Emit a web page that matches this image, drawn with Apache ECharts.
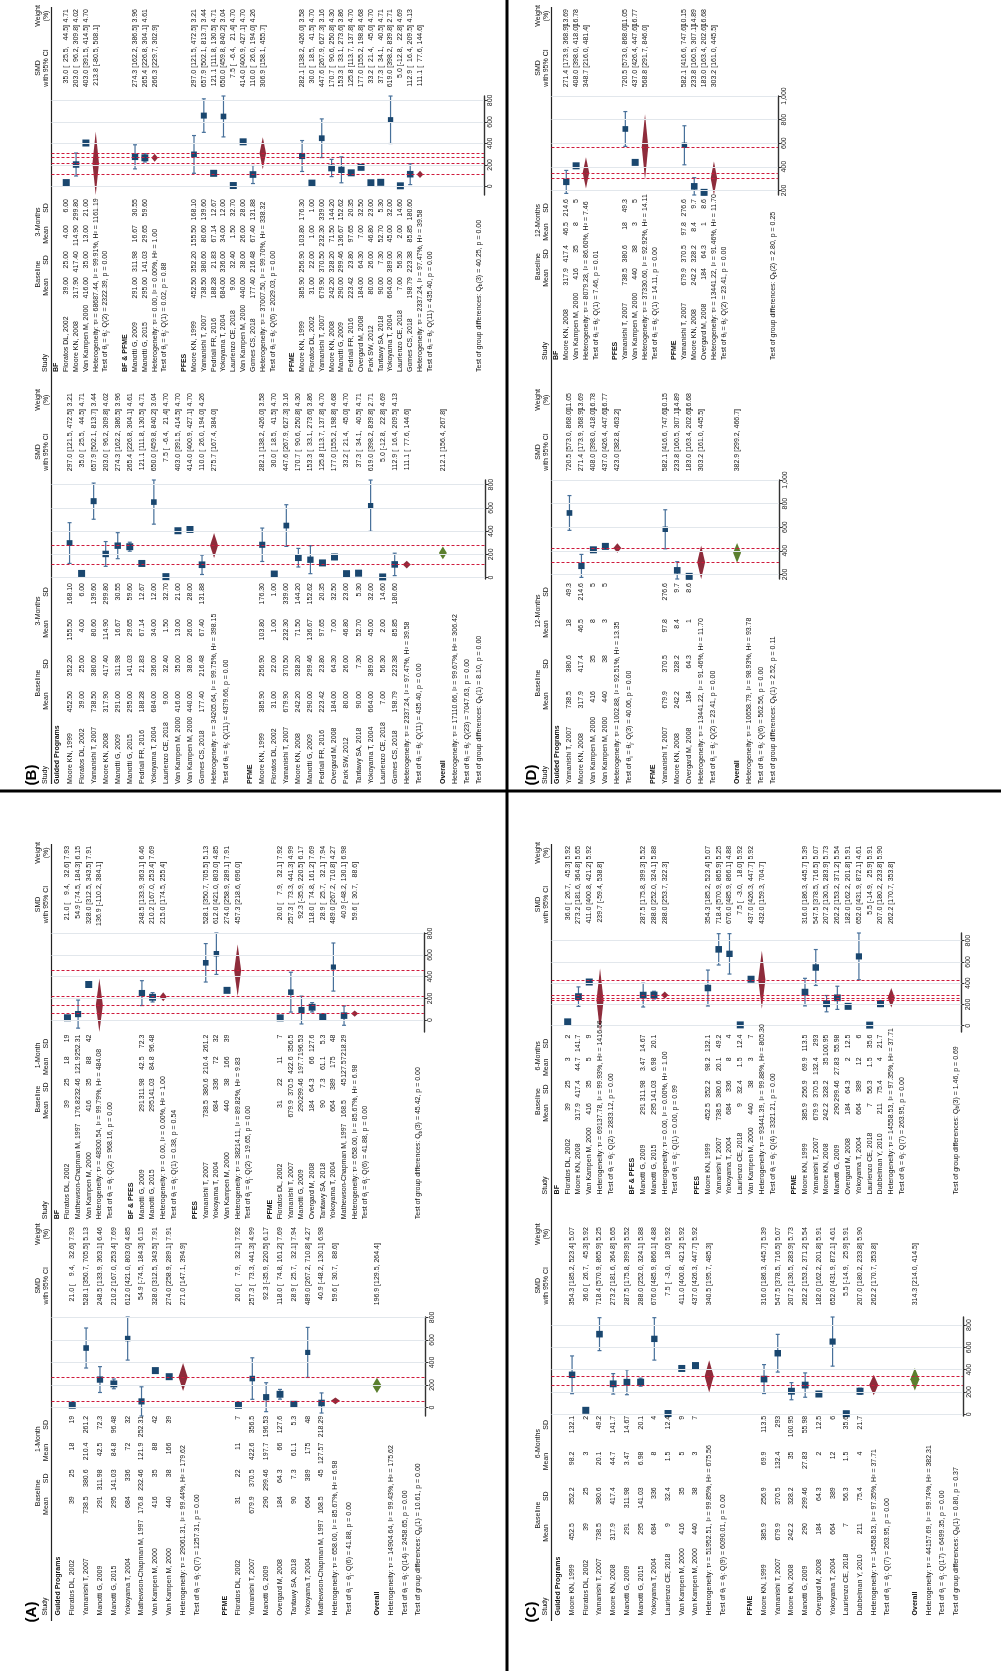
<!DOCTYPE html>
<html>
<head>
<meta charset="utf-8">
<script src="https://cdn.jsdelivr.net/npm/echarts@6/dist/echarts.min.js"></script>
<style>
html,body{margin:0;padding:0;background:#fff;}
#chart{width:1001px;height:1671px;}
</style>
</head>
<body>
<div id="chart"></div>
<script>
// ===================== Panel A : 1-Month =====================
const A_study = ['Floratos DL, 2002','Yamanishi T, 2007','Manotti G, 2009','Manotti G, 2015','Yokoyama T, 2004','Mathewson-Chapman M, 1997','Van Kampen M, 2000','Van Kampen M, 2000',
  'Floratos DL, 2002','Yamanishi T, 2007','Manotti G, 2009','Overgard M, 2008','Tantawy SA, 2018','Yokoyama T, 2004','Mathewson-Chapman M, 1997'];
const A_program = ['Guided Programs','Guided Programs','Guided Programs','Guided Programs','Guided Programs','Guided Programs','Guided Programs','Guided Programs',
  'PFME','PFME','PFME','PFME','PFME','PFME','PFME'];
const A_type = ['BF','PFES','BF & PFES','BF & PFES','PFES','BF','BF','PFES','PFME','PFME','PFME','PFME','PFME','PFME','PFME'];
const A_baseMean = [39,738.5,291,295,684,176.8,416,440,31,679.9,290,184,90,664,168.5];
const A_baseSD = [25,380.6,311.98,141.03,336,232.46,35,38,22,370.5,299.46,64.3,7.3,389,45];
const A_fuMean = [18,210.4,42.5,84.8,72,121.9,88,166,11,422.6,197.7,66,61.1,175,127.57];
const A_fuSD = [19,261.2,72.3,96.48,32,252.31,42,39,7,356.5,196.53,127.6,5.3,48,218.29];
const A_smd = [21.0,528.1,248.5,210.2,612.0,54.9,328.0,274.0,20.0,257.3,92.3,118.0,28.9,489.0,40.9];
const A_lo = [9.4,350.7,133.9,167.0,421.0,-74.5,312.5,258.9,7.9,73.3,-35.9,74.8,25.7,267.2,-48.2];
const A_hi = [32.6,705.5,363.1,253.4,803.0,184.3,343.5,289.1,32.1,441.3,220.5,161.2,32.1,710.8,130.1];
const A_weight = [7.93,5.13,6.46,7.69,4.85,6.15,7.91,7.91,7.92,4.99,6.17,7.69,7.94,4.27,6.98];

const A1_group = ['Guided Programs','PFME'];
const A1_est = [271.0,59.6], A1_lo = [147.1,30.7], A1_hi = [394.9,88.6];
const A1_tau2 = [29061.31,658.00], A1_I2 = [99.44,85.67], A1_H2 = [179.62,6.98];
const A1_df = [7,6], A1_Q = [1257.31,41.88], A1_p = [0.00,0.00];
const A_overall = [196.9,129.5,264.4];
const A_overallHet = [14904.64,99.43,175.62];
const A_overallTest = [14,2458.65,0.00];
const A1_diff = [1,10.61,0.00];

const A2_group = ['BF','BF & PFES','PFES','PFME'];
const A2_est = [136.9,215.0,457.3,59.6], A2_lo = [-110.2,174.5,218.6,30.7], A2_hi = [384.1,255.4,696.0,88.6];
const A2_tau2 = [48300.54,0.00,38214.11,658.00], A2_I2 = [99.79,0.00,89.82,85.67], A2_H2 = [484.08,1.00,9.83,6.98];
const A2_df = [2,1,2,6], A2_Q = [968.16,0.38,19.65,41.88], A2_p = [0.00,0.54,0.00,0.00];
const A2_diff = [3,45.42,0.00];

// ===================== Panel B : 3-Months =====================
const B_study = ['Moore KN, 1999','Floratos DL, 2002','Yamanishi T, 2007','Moore KN, 2008','Manotti G, 2009','Manotti G, 2015','Pedriali FR, 2016','Yokoyama T, 2004','Laurienzo CE, 2018','Van Kampen M, 2000','Van Kampen M, 2000','Gomes CS, 2018',
  'Moore KN, 1999','Floratos DL, 2002','Yamanishi T, 2007','Moore KN, 2008','Manotti G, 2009','Pedriali FR, 2016','Overgard M, 2008','Park SW, 2012','Tantawy SA, 2018','Yokoyama T, 2004','Laurienzo CE, 2018','Gomes CS, 2018'];
const B_program = ['Guided Programs','Guided Programs','Guided Programs','Guided Programs','Guided Programs','Guided Programs','Guided Programs','Guided Programs','Guided Programs','Guided Programs','Guided Programs','Guided Programs',
  'PFME','PFME','PFME','PFME','PFME','PFME','PFME','PFME','PFME','PFME','PFME','PFME'];
const B_type = ['PFES','BF','PFES','BF','BF & PFME','BF & PFME','PFES','PFES','PFES','BF','PFES','PFES',
  'PFME','PFME','PFME','PFME','PFME','PFME','PFME','PFME','PFME','PFME','PFME','PFME'];
const B_baseMean = [452.50,39.00,738.50,317.90,291.00,295.00,188.28,684.00,9.00,416.00,440.00,177.40,385.90,31.00,679.90,242.20,290.00,223.42,184.00,80.00,90.00,664.00,7.00,198.79];
const B_baseSD = [352.20,25.00,380.60,417.40,311.98,141.03,21.83,336.00,32.40,35.00,38.00,216.48,256.90,22.00,370.50,328.20,299.46,23.80,64.30,26.00,7.30,389.00,56.30,223.38];
const B_fuMean = [155.50,4.00,80.60,114.90,16.67,29.65,67.14,34.00,1.50,13.00,26.00,67.40,103.80,1.00,232.30,71.50,136.67,97.65,7.00,46.80,52.70,45.00,2.00,85.85];
const B_fuSD = [168.10,6.00,139.60,299.80,30.55,59.60,12.67,12.00,32.70,21.00,28.00,131.88,176.30,1.00,339.00,144.20,152.62,20.35,32.50,23.00,5.30,32.00,14.60,180.60];
const B_smd = [297.0,35.0,657.9,203.0,274.3,265.4,121.1,650.0,7.5,403.0,414.0,110.0,282.1,30.0,447.6,170.7,153.3,125.8,177.0,33.2,37.3,619.0,5.0,112.9];
const B_lo = [121.5,25.5,502.1,96.2,162.2,226.8,111.8,459.8,-6.4,391.5,400.9,26.0,138.2,18.5,267.9,90.6,33.1,113.7,155.2,21.4,34.1,398.2,-12.8,16.4];
const B_hi = [472.5,44.5,813.7,309.8,386.5,304.1,130.5,840.2,21.4,414.5,427.1,194.0,426.0,41.5,627.3,250.8,273.6,137.8,198.8,45.0,40.5,839.8,22.8,209.5];
const B_weight = [3.21,4.71,3.44,4.02,3.96,4.61,4.71,3.04,4.70,4.70,4.70,4.26,3.58,4.70,3.16,4.30,3.86,4.70,4.68,4.70,4.71,2.71,4.69,4.13];

const B1_group = ['Guided Programs','PFME'];
const B1_est = [275.7,111.1], B1_lo = [167.4,77.6], B1_hi = [384.0,144.6];
const B1_tau2 = [34205.64,2337.24], B1_I2 = [99.75,97.47], B1_H2 = [398.15,39.58];
const B1_df = [11,11], B1_Q = [4379.66,435.40], B1_p = [0.00,0.00];
const B_overall = [212.1,156.4,267.8];
const B_overallHet = [17110.66,99.67,306.42];
const B_overallTest = [23,7047.63,0.00];
const B1_diff = [1,8.10,0.00];

const B2_group = ['BF','BF & PFME','PFES','PFME'];
const B2_est = [213.8,266.3,306.9,111.1], B2_lo = [-80.5,229.7,158.1,77.6], B2_hi = [508.1,302.9,455.7,144.6];
const B2_tau2 = [68687.44,0.00,37007.50,2337.24], B2_I2 = [99.91,0.00,99.70,97.47], B2_H2 = [1161.19,1.00,338.32,39.58];
const B2_df = [2,1,6,11], B2_Q = [2322.39,0.02,2029.03,435.40], B2_p = [0.00,0.88,0.00,0.00];
const B2_diff = [3,40.25,0.00];

// ===================== Panel C : 6-Months =====================
const C_study = ['Moore KN, 1999','Floratos DL, 2002','Yamanishi T, 2007','Moore KN, 2008','Manotti G, 2009','Manotti G, 2015','Yokoyama T, 2004','Laurienzo CE, 2018','Van Kampen M, 2000','Van Kampen M, 2000',
  'Moore KN, 1999','Yamanishi T, 2007','Moore KN, 2008','Manotti G, 2009','Overgard M, 2008','Yokoyama T, 2004','Laurienzo CE, 2018','Dubbelman Y, 2010'];
const C_program = ['Guided Programs','Guided Programs','Guided Programs','Guided Programs','Guided Programs','Guided Programs','Guided Programs','Guided Programs','Guided Programs','Guided Programs',
  'PFME','PFME','PFME','PFME','PFME','PFME','PFME','PFME'];
const C_type = ['PFES','BF','PFES','BF','BF & PFES','BF & PFES','PFES','PFES','BF','PFES','PFME','PFME','PFME','PFME','PFME','PFME','PFME','PFME'];
const C_baseMean = [452.5,39,738.5,317.9,291,295,684,9,416,440,385.9,679.9,242.2,290,184,664,7,211];
const C_baseSD = [352.2,25,380.6,417.4,311.98,141.03,336,32.4,35,38,256.9,370.5,328.2,299.46,64.3,389,56.3,75.4];
const C_fuMean = [98.2,3,20.1,44.7,3.47,6.98,8,1.5,5,3,69.9,132.4,35,27.83,2,12,1.5,4];
const C_fuSD = [132.1,2,49.2,141.7,14.67,20.1,4,12.4,9,7,113.5,293,100.95,55.98,12.5,6,35.6,21.7];
const C_smd = [354.3,36.0,718.4,273.2,287.5,288.0,676.0,7.5,411.0,437.0,316.0,547.5,207.2,262.2,182.0,652.0,5.5,207.0];
const C_lo = [185.2,26.7,570.9,181.6,175.8,252.0,485.9,-3.0,400.8,426.3,186.3,378.5,130.5,153.2,162.2,431.9,-14.9,180.2];
const C_hi = [523.4,45.3,865.9,364.8,399.3,324.1,866.1,18.0,421.2,447.7,445.7,716.5,283.9,371.2,201.8,872.1,25.9,233.8];
const C_weight = [5.07,5.92,5.25,5.65,5.52,5.88,4.88,5.92,5.92,5.92,5.39,5.07,5.73,5.54,5.91,4.61,5.91,5.90];

const C1_group = ['Guided Programs','PFME'];
const C1_est = [340.5,262.2], C1_lo = [195.7,170.7], C1_hi = [485.3,353.8];
const C1_tau2 = [51952.51,14558.53], C1_I2 = [99.85,97.35], C1_H2 = [675.56,37.71];
const C1_df = [9,7], C1_Q = [6090.01,263.95], C1_p = [0.00,0.00];
const C_overall = [314.3,214.0,414.5];
const C_overallHet = [44157.69,99.74,382.31];
const C_overallTest = [17,6499.35,0.00];
const C1_diff = [1,0.80,0.37];

const C2_group = ['BF','BF & PFES','PFES','PFME'];
const C2_est = [239.7,288.0,432.0,262.2], C2_lo = [-59.4,253.7,159.3,170.7], C2_hi = [538.8,322.3,704.7,353.8];
const C2_tau2 = [69137.78,0.00,93441.39,14558.53], C2_I2 = [99.93,0.00,99.88,97.35], C2_H2 = [1416.56,1.00,805.30,37.71];
const C2_df = [2,1,4,7], C2_Q = [2833.12,0.00,3321.21,263.95], C2_p = [0.00,0.99,0.00,0.00];
const C2_diff = [3,1.46,0.69];

// ===================== Panel D : 12-Months =====================
const D_study = ['Yamanishi T, 2007','Moore KN, 2008','Van Kampen M, 2000','Van Kampen M, 2000','Yamanishi T, 2007','Moore KN, 2008','Overgard M, 2008'];
const D_program = ['Guided Programs','Guided Programs','Guided Programs','Guided Programs','PFME','PFME','PFME'];
const D_type = ['PFES','BF','BF','PFES','PFME','PFME','PFME'];
const D_baseMean = [738.5,317.9,416,440,679.9,242.2,184];
const D_baseSD = [380.6,417.4,35,38,370.5,328.2,64.3];
const D_fuMean = [18,46.5,8,3,97.8,8.4,1];
const D_fuSD = [49.3,214.6,5,5,276.6,9.7,8.6];
const D_smd = [720.5,271.4,408.0,437.0,582.1,233.8,183.0];
const D_lo = [573.0,173.9,398.0,426.4,416.6,160.5,163.4];
const D_hi = [868.0,368.9,418.0,447.6,747.6,307.1,202.6];
const D_weight = [11.05,13.69,16.78,16.77,10.15,14.89,16.68];

const D1_group = ['Guided Programs','PFME'];
const D1_est = [423.0,303.2], D1_lo = [382.8,161.0], D1_hi = [463.2,445.5];
const D1_tau2 = [1002.88,13441.22], D1_I2 = [92.51,91.46], D1_H2 = [13.35,11.70];
const D1_df = [3,2], D1_Q = [40.06,23.41], D1_p = [0.00,0.00];
const D_overall = [382.9,299.2,466.7];
const D_overallHet = [10658.79,98.93,93.78];
const D_overallTest = [6,562.56,0.00];
const D1_diff = [1,2.52,0.11];

const D2_group = ['BF','PFES','PFME'];
const D2_est = [348.7,568.8,303.2], D2_lo = [216.0,291.7,161.0], D2_hi = [481.4,846.0,445.5];
const D2_tau2 = [8079.28,37330.60,13441.22], D2_I2 = [86.60,92.92,91.46], D2_H2 = [7.46,14.11,11.70];
const D2_df = [1,1,2], D2_Q = [7.46,14.11,23.41], D2_p = [0.01,0.00,0.00];
const D2_diff = [2,2.80,0.25];

// Axis tick labels
const TICKS_0_800 = [0,200,400,600,800];
const TICKS_200_1000 = [200,400,600,800,1000];

// ===================== layout & styling =====================
const FONT = '"Liberation Sans", Arial, Helvetica, sans-serif';
const FS = 7;
const SEP = 51.5;             // header rule (x within a panel)
const LOWER_SHIFT = 384;      // weight / CI / plot columns of the lower block sit this much further down
// column anchors measured from the panel top (right edge of right-aligned numbers, start of study labels)
const COLS_STD = {
  up:  { fuSD: 199, fuMean: 222, baseSD: 245, baseMean: 268, study: 360 },
  low: { fuSD: 583, fuMean: 619, baseSD: 655, baseMean: 691, study: 784 }
};
const COLS_TWO_DEC = {       // two-decimal numbers need wider data columns
  up:  { fuSD: 199, fuMean: 225, baseSD: 251, baseMean: 277, study: 372 },
  low: { fuSD: 583, fuMean: 619, baseSD: 655, baseMean: 691, study: 784 }
};
const COLS_WIDE_ID = {       // longer study labels need a wider first column
  up:  { fuSD: 199, fuMean: 221, baseSD: 243, baseMean: 265, study: 385 },
  low: { fuSD: 583, fuMean: 610, baseSD: 637, baseMean: 664, study: 784 }
};
const YC = { weight: 9, smd: 25, plotTop: 96, plotBottom: 195 };
const HDR1 = 38, HDR2 = 46.5, HDR_STUDY = 45; // header line positions
const SQ_COLOR = '#1a476f', CI_COLOR = '#47709a', MAROON = '#8e2c3b', GREEN = '#5b7f2e', RED = '#cf1a3c', GRID = '#e2e7ec';

function grp(name, est, lo, hi, tau2, I2, H2, df, Q, p) { return { name, est, lo, hi, tau2, I2, H2, df, Q, p }; }

const TOP_Y = 0, BOTTOM_Y = 837;
const PANELS = [
  { label:'(A)', fu:'1-Month', ox:0, oy:BOTTOM_Y, xLast:418.5, dec:null, ticks:TICKS_0_800, cols:COLS_WIDE_ID,
    study:A_study, program:A_program, type:A_type, baseMean:A_baseMean, baseSD:A_baseSD, fuMean:A_fuMean, fuSD:A_fuSD,
    smd:A_smd, lo:A_lo, hi:A_hi, weight:A_weight,
    g1:grp(A1_group,A1_est,A1_lo,A1_hi,A1_tau2,A1_I2,A1_H2,A1_df,A1_Q,A1_p),
    g2:grp(A2_group,A2_est,A2_lo,A2_hi,A2_tau2,A2_I2,A2_H2,A2_df,A2_Q,A2_p),
    overall:A_overall, overallHet:A_overallHet, overallTest:A_overallTest, diff1:A1_diff, diff2:A2_diff },
  { label:'(B)', fu:'3-Months', ox:0, oy:TOP_Y, xLast:479, dec:2, ticks:TICKS_0_800, cols:COLS_TWO_DEC,
    study:B_study, program:B_program, type:B_type, baseMean:B_baseMean, baseSD:B_baseSD, fuMean:B_fuMean, fuSD:B_fuSD,
    smd:B_smd, lo:B_lo, hi:B_hi, weight:B_weight,
    g1:grp(B1_group,B1_est,B1_lo,B1_hi,B1_tau2,B1_I2,B1_H2,B1_df,B1_Q,B1_p),
    g2:grp(B2_group,B2_est,B2_lo,B2_hi,B2_tau2,B2_I2,B2_H2,B2_df,B2_Q,B2_p),
    overall:B_overall, overallHet:B_overallHet, overallTest:B_overallTest, diff1:B1_diff, diff2:B2_diff },
  { label:'(C)', fu:'6-Months', ox:500, oy:BOTTOM_Y, xLast:456, dec:null, ticks:TICKS_0_800, cols:COLS_STD,
    study:C_study, program:C_program, type:C_type, baseMean:C_baseMean, baseSD:C_baseSD, fuMean:C_fuMean, fuSD:C_fuSD,
    smd:C_smd, lo:C_lo, hi:C_hi, weight:C_weight,
    g1:grp(C1_group,C1_est,C1_lo,C1_hi,C1_tau2,C1_I2,C1_H2,C1_df,C1_Q,C1_p),
    g2:grp(C2_group,C2_est,C2_lo,C2_hi,C2_tau2,C2_I2,C2_H2,C2_df,C2_Q,C2_p),
    overall:C_overall, overallHet:C_overallHet, overallTest:C_overallTest, diff1:C1_diff, diff2:C2_diff },
  { label:'(D)', fu:'12-Months', ox:500, oy:TOP_Y, xLast:273, dec:null, ticks:TICKS_200_1000, cols:COLS_STD,
    study:D_study, program:D_program, type:D_type, baseMean:D_baseMean, baseSD:D_baseSD, fuMean:D_fuMean, fuSD:D_fuSD,
    smd:D_smd, lo:D_lo, hi:D_hi, weight:D_weight,
    g1:grp(D1_group,D1_est,D1_lo,D1_hi,D1_tau2,D1_I2,D1_H2,D1_df,D1_Q,D1_p),
    g2:grp(D2_group,D2_est,D2_lo,D2_hi,D2_tau2,D2_I2,D2_H2,D2_df,D2_Q,D2_p),
    overall:D_overall, overallHet:D_overallHet, overallTest:D_overallTest, diff1:D1_diff, diff2:D2_diff }
];

// ---------- text helpers ----------
const f2 = v => v.toFixed(2);
function pad(s, n) { return '\u2007'.repeat(Math.max(0, n - s.length)) + s; }
function ciText(e, lo, hi) { return e.toFixed(1) + ' [' + pad(lo.toFixed(1), 5) + ', ' + pad(hi.toFixed(1), 5) + ']'; }
function hetText(t, i, h) { return 'Heterogeneity: \u03C4\u00B2 = ' + f2(t) + ', I\u00B2 = ' + f2(i) + '%, H\u00B2 = ' + f2(h); }
function testRich(df, Q, p) { return '{n|Test of \u03B8}{s|i}{n| = \u03B8}{s|j}{n|: Q(' + df + ') = ' + f2(Q) + ', p = ' + f2(p) + '}'; }
function diffRich(d) { return '{n|Test of group differences: Q}{s|b}{n|(' + d[0] + ') = ' + f2(d[1]) + ', p = ' + f2(d[2]) + '}'; }
const RICH = {
  n: { fontSize: FS, fontFamily: FONT, fill: '#111', lineHeight: 9, verticalAlign: 'middle' },
  s: { fontSize: 5, fontFamily: FONT, fill: '#111', lineHeight: 9, verticalAlign: 'bottom' }
};

const option = { animation: false, backgroundColor: '#fff', grid: [], xAxis: [], yAxis: [], series: [], graphic: [] };

function addPlot(P, lower) {
  const yb = lower ? LOWER_SHIFT : 0;
  const C = lower ? P.cols.low : P.cols.up;
  const G = lower ? P.g1 : P.g2;
  const member = lower ? P.program : P.type;
  const fmt = v => (P.dec == null ? String(v) : v.toFixed(P.dec));

  // row structure, top to bottom of the forest plot
  const rows = [];
  G.name.forEach((g, gi) => {
    rows.push({ k: 'group', gi });
    member.forEach((m, si) => { if (m === g) rows.push({ k: 'study', si }); });
    rows.push({ k: 'het', gi }, { k: 'test', gi }, { k: 'blank' });
  });
  if (lower) rows.push({ k: 'overall' }, { k: 'ohet' }, { k: 'otest' });
  else rows.push({ k: 'blank' }, { k: 'blank' }, { k: 'blank' });
  rows.push({ k: 'gdiff' });
  const N = rows.length;
  const s = (P.xLast - SEP) / (N - 0.5);   // row pitch

  // ---- table grid (rows x column offsets) ----
  const gT = option.grid.length;
  option.grid.push({ left: P.ox + SEP - s, top: P.oy, width: (N + 1) * s, height: 840 });
  option.xAxis.push({ gridIndex: gT, type: 'category', data: Array.from({ length: N + 1 }, (_, i) => String(i)), show: false });
  option.yAxis.push({ gridIndex: gT, type: 'value', min: 0, max: 840, inverse: true, show: false });

  const hc = SEP - 0.5 * s;            // header band centre
  const items = [];
  const T = (row, y, text, align, extra) => items.push(Object.assign({ row, y, text, align }, extra || {}));
  const wY = yb + YC.weight, cY = yb + YC.smd;
  // header
  T(0, C.study, 'Study', 'left', { dx: HDR_STUDY - hc });
  T(0, (C.baseSD + C.baseMean) / 2 + 10, 'Baseline', 'center', { dx: HDR1 - hc });
  T(0, C.baseMean + 10, 'Mean', 'center', { dx: HDR2 - hc });
  T(0, C.baseSD + 9, 'SD', 'center', { dx: HDR2 - hc });
  T(0, (C.fuSD + C.fuMean) / 2 + 10, P.fu, 'center', { dx: HDR1 - hc });
  T(0, C.fuMean + 10, 'Mean', 'center', { dx: HDR2 - hc });
  T(0, C.fuSD + 9, 'SD', 'center', { dx: HDR2 - hc });
  T(0, cY + 43, 'SMD', 'center', { dx: HDR1 - hc });
  T(0, cY + 43, 'with 95% CI', 'center', { dx: HDR2 - hc });
  T(0, wY + 7, 'Weight', 'center', { dx: HDR1 - hc });
  T(0, wY + 7, '(%)', 'center', { dx: HDR2 - hc });

  const marks = [];
  rows.forEach((r, idx) => {
    const i = idx + 1;
    if (r.k === 'group') T(i, C.study, G.name[r.gi], 'left', { bold: true });
    else if (r.k === 'study') {
      const si = r.si;
      T(i, C.study, P.study[si], 'left');
      T(i, C.baseMean, fmt(P.baseMean[si]), 'right');
      T(i, C.baseSD, fmt(P.baseSD[si]), 'right');
      T(i, C.fuMean, fmt(P.fuMean[si]), 'right');
      T(i, C.fuSD, fmt(P.fuSD[si]), 'right');
      T(i, cY, ciText(P.smd[si], P.lo[si], P.hi[si]), 'right');
      T(i, wY, f2(P.weight[si]), 'right');
      marks.push([idx, P.smd[si], P.lo[si], P.hi[si], P.weight[si], 0]);
    } else if (r.k === 'het') {
      const g = r.gi;
      T(i, C.study, hetText(G.tau2[g], G.I2[g], G.H2[g]), 'left');
      T(i, cY, ciText(G.est[g], G.lo[g], G.hi[g]), 'right');
      marks.push([idx, G.est[g], G.lo[g], G.hi[g], 0, 1]);
    } else if (r.k === 'test') {
      const g = r.gi;
      T(i, C.study, testRich(G.df[g], G.Q[g], G.p[g]), 'left', { rich: true });
    } else if (r.k === 'overall') {
      T(i, C.study, 'Overall', 'left', { bold: true });
      T(i, cY, ciText(P.overall[0], P.overall[1], P.overall[2]), 'right');
      marks.push([idx, P.overall[0], P.overall[1], P.overall[2], 0, 2]);
    } else if (r.k === 'ohet') {
      T(i, C.study, hetText(P.overallHet[0], P.overallHet[1], P.overallHet[2]), 'left');
    } else if (r.k === 'otest') {
      T(i, C.study, testRich(P.overallTest[0], P.overallTest[1], P.overallTest[2]), 'left', { rich: true });
    } else if (r.k === 'gdiff') {
      T(i, C.study, diffRich(lower ? P.diff1 : P.diff2), 'left', { rich: true });
    }
  });

  option.series.push({
    type: 'custom', xAxisIndex: gT, yAxisIndex: gT, silent: true, z: 5,
    data: items.map(it => [it.row, it.y]),
    renderItem: (params, api) => {
      const it = items[params.dataIndex];
      const p = api.coord([api.value(0), api.value(1)]);
      const style = {
        text: it.text, fill: '#111', fontSize: FS, fontFamily: FONT,
        fontWeight: it.bold ? 'bold' : 'normal', align: it.align, verticalAlign: 'middle'
      };
      if (it.rich) style.rich = RICH;
      return { type: 'text', x: p[0] + (it.dx || 0), y: p[1], rotation: Math.PI / 2, style };
    }
  });

  // ---- forest grid (rows x SMD) ----
  const lows = marks.map(m => m[2]), highs = marks.map(m => m[3]);
  const vmin = Math.min(Math.min.apply(null, lows), P.ticks[0]);
  const vmax = Math.max(Math.max.apply(null, highs), P.ticks[P.ticks.length - 1]);
  const gP = option.grid.length;
  option.grid.push({ left: P.ox + SEP, top: P.oy + yb + YC.plotTop, width: N * s, height: YC.plotBottom - YC.plotTop });
  option.xAxis.push({ gridIndex: gP, type: 'category', data: Array.from({ length: N }, (_, i) => String(i + 1)), show: false });
  option.yAxis.push({
    gridIndex: gP, type: 'value', position: 'right', min: vmin, max: vmax,
    axisLine: { show: true, onZero: false, lineStyle: { color: '#333', width: 1.4 } },
    axisTick: { show: true, inside: false, length: 3, customValues: P.ticks, lineStyle: { color: '#333', width: 1 } },
    axisLabel: { show: true, customValues: P.ticks, rotate: 90, margin: 3, fontSize: FS, fontFamily: FONT, color: '#222',
      align: 'center', verticalAlign: 'top' },
    splitLine: { show: false }
  });
  const maxW = Math.max.apply(null, P.weight);
  const SQ = 7;
  // light grid lines at the tick values
  option.series.push({
    type: 'line', xAxisIndex: gP, yAxisIndex: gP, data: [], z: 1, silent: true,
    markLine: { silent: true, symbol: ['none', 'none'], label: { show: false }, animation: false,
      lineStyle: { color: GRID, type: 'solid', width: 1 }, data: P.ticks.map(v => ({ yAxis: v })) }
  });
  // subgroup estimate reference lines
  option.series.push({
    type: 'line', xAxisIndex: gP, yAxisIndex: gP, data: [], z: 2, silent: true,
    markLine: { silent: true, symbol: ['none', 'none'], label: { show: false }, animation: false,
      lineStyle: { color: RED, type: [3, 2], width: 1 }, data: G.est.map(v => ({ yAxis: v })) }
  });
  option.series.push({
    type: 'custom', xAxisIndex: gP, yAxisIndex: gP, z: 3, silent: true, clip: false,
    encode: { x: 0, y: [1, 2, 3] },
    data: marks,
    renderItem: (params, api) => {
      const j = api.value(0), e = api.value(1), lo = api.value(2), hi = api.value(3), w = api.value(4), t = api.value(5);
      const pe = api.coord([j, e]), pl = api.coord([j, lo]), ph = api.coord([j, hi]);
      const x = pe[0];
      if (t === 0) {
        const side = SQ * Math.sqrt(w / maxW);
        const ls = { stroke: CI_COLOR, lineWidth: 1.2 };
        return { type: 'group', children: [
          { type: 'line', shape: { x1: x, y1: pl[1], x2: x, y2: ph[1] }, style: ls },
          { type: 'line', shape: { x1: x - 2, y1: pl[1], x2: x + 2, y2: pl[1] }, style: ls },
          { type: 'line', shape: { x1: x - 2, y1: ph[1], x2: x + 2, y2: ph[1] }, style: ls },
          { type: 'rect', shape: { x: x - side / 2, y: pe[1] - side / 2, width: side, height: side }, style: { fill: SQ_COLOR } }
        ] };
      }
      const hw = 0.33 * s;
      return { type: 'polygon', shape: { points: [[x, pl[1]], [x - hw, pe[1]], [x, ph[1]], [x + hw, pe[1]]] },
        style: { fill: t === 1 ? MAROON : GREEN } };
    }
  });
}

PANELS.forEach(P => {
  addPlot(P, true);
  addPlot(P, false);
  // header rule running through both blocks
  option.graphic.push({ type: 'line', silent: true,
    shape: { x1: P.ox + SEP, y1: P.oy + 7, x2: P.ox + SEP, y2: P.oy + P.cols.low.study },
    style: { stroke: '#222', lineWidth: 1.2 } });
  // panel letter
  option.graphic.push({ type: 'text', silent: true, x: P.ox + 32, y: P.oy + 775, rotation: Math.PI / 2,
    style: { text: P.label, fontSize: 15, fontWeight: 'bold', fontFamily: FONT, fill: '#000', align: 'center', verticalAlign: 'middle' } });
});
// panel dividers
option.graphic.push({ type: 'line', silent: true, shape: { x1: 0, y1: 791, x2: 1001, y2: 791 }, style: { stroke: '#000', lineWidth: 3 } });
option.graphic.push({ type: 'line', silent: true, shape: { x1: 507, y1: 0, x2: 507, y2: 1671 }, style: { stroke: '#000', lineWidth: 3 } });

const chart = echarts.init(document.getElementById('chart'), null, { renderer: 'canvas' });
chart.setOption(option);
</script>
</body>
</html>
